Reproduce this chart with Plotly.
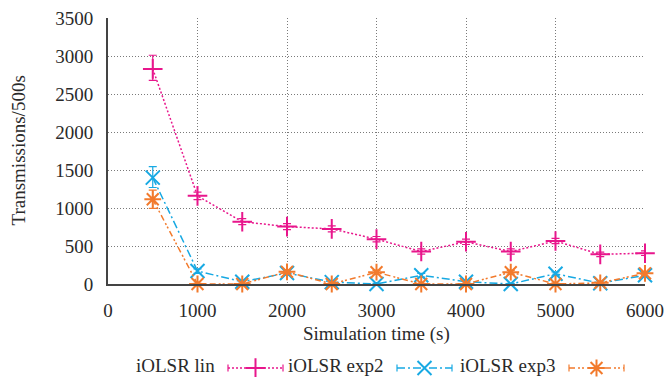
import plotly.graph_objects as go

# ---- data -------------------------------------------------------------
time_s = [500, 1000, 1500, 2000, 2500, 3000, 3500, 4000, 4500, 5000, 5500, 6000]
series_names = ["iOLSR lin", "iOLSR exp2", "iOLSR exp3"]

lin = [2830, 1160, 820, 755, 725, 590, 427, 555, 427, 565, 390, 405]
lin_err_plus = [180, 50, 40, 40, 40, 35, 35, 35, 35, 35, 30, 30]
lin_err_minus = [150, 50, 40, 40, 40, 35, 35, 35, 35, 35, 30, 30]

exp2 = [1400, 170, 30, 145, 25, 0, 115, 30, 0, 135, 10, 115]
exp2_err_plus = [145, 30, 20, 25, 20, 10, 25, 20, 10, 25, 10, 25]
exp2_err_minus = [130, 30, 20, 25, 20, 0, 25, 20, 0, 25, 10, 25]

exp3 = [1115, 0, 0, 160, 0, 155, 0, 0, 155, 0, 15, 140]
exp3_err_plus = [120, 10, 10, 25, 10, 25, 10, 10, 25, 10, 10, 25]
exp3_err_minus = [120, 0, 0, 25, 0, 25, 0, 0, 25, 0, 10, 25]

x_ticks = [0, 1000, 2000, 3000, 4000, 5000, 6000]
y_ticks = [0, 500, 1000, 1500, 2000, 2500, 3000, 3500]

# ---- styling ----------------------------------------------------------
FONT = "Liberation Serif"
TEXT_COLOR = "#2a2a2a"
W, H = 668, 377
M_L, M_R, M_T = 108, 23, 18
PLOT_BOTTOM = 284          # pixel row of the x axis
plot_w = W - M_L - M_R
plot_h = H - M_T


def px_to_paper_x(px):
    return (px - M_L) / plot_w


def px_to_paper_y(py):
    return (H - py) / plot_h


colors = ["#e8168c", "#17a9e3", "#f27a2c"]
dashes = ["2px,2px", "8px,3px,2px,3px", "6px,3px,2px,2px,2px,3px"]
symbols = ["cross-thin-open", "x-thin-open", "asterisk-open"]

values = [lin, exp2, exp3]
errs_plus = [lin_err_plus, exp2_err_plus, exp3_err_plus]
errs_minus = [lin_err_minus, exp2_err_minus, exp3_err_minus]

fig = go.Figure()

for name, ys, ep, em, c, d, s in zip(series_names, values, errs_plus, errs_minus,
                                      colors, dashes, symbols):
    fig.add_trace(go.Scatter(
        x=time_s, y=ys, name=name, mode="lines+markers",
        line=dict(color=c, width=1.5, dash=d),
        marker=dict(symbol=s, size=14, color=c, line=dict(color=c, width=2)),
        error_y=dict(type="data", symmetric=False, array=ep, arrayminus=em,
                     color=c, thickness=1.2, width=4),
        cliponaxis=False, showlegend=False,
    ))

# ---- key below the plot (label first, then the line sample) -----------
y_dom_bottom = (H - PLOT_BOTTOM) / plot_h

key_y = 368
key_text_y = 365
key_label_right = [217, 386, 558]
key_sample_len = 55
key_gap = 11
for name, c, d, s, xr in zip(series_names, colors, dashes, symbols, key_label_right):
    x0 = xr + key_gap
    x1 = x0 + key_sample_len
    xm = (x0 + x1) / 2
    fig.add_trace(go.Scatter(
        x=[x0, x1], y=[key_y, key_y], mode="lines", xaxis="x2", yaxis="y2",
        line=dict(color=c, width=1.4, dash=d),
        error_y=dict(type="constant", value=3.5, color=c, thickness=1.2, width=0),
        showlegend=False, hoverinfo="skip",
    ))
    fig.add_trace(go.Scatter(
        x=[xm], y=[key_y], mode="markers", xaxis="x2", yaxis="y2",
        marker=dict(symbol=s, size=14, color=c, line=dict(color=c, width=2)),
        showlegend=False, hoverinfo="skip",
    ))
    fig.add_annotation(x=px_to_paper_x(xr), y=px_to_paper_y(key_text_y),
                       xref="paper", yref="paper", text=name,
                       showarrow=False, xanchor="right", yanchor="middle",
                       font=dict(family=FONT, size=19, color=TEXT_COLOR))

# axis titles
fig.add_annotation(x=0.5, y=px_to_paper_y(334), xref="paper", yref="paper",
                   text="Simulation time (s)", showarrow=False,
                   xanchor="center", yanchor="middle",
                   font=dict(family=FONT, size=19, color=TEXT_COLOR))
fig.add_annotation(x=px_to_paper_x(18.5), y=px_to_paper_y(151),
                   xref="paper", yref="paper", text="Transmissions/500s",
                   showarrow=False, textangle=-90, xanchor="center", yanchor="middle",
                   font=dict(family=FONT, size=19, color=TEXT_COLOR))

grid_style = dict(showgrid=True, gridcolor="#7a7a7a", gridwidth=1, griddash="1px,2px")

fig.update_layout(
    width=W, height=H,
    margin=dict(l=M_L, r=M_R, t=M_T, b=0, pad=0),
    paper_bgcolor="white", plot_bgcolor="white",
    font=dict(family=FONT, size=19, color=TEXT_COLOR),
    showlegend=False,
    xaxis=dict(range=[0, 6000], tickvals=x_ticks, ticktext=[str(v) for v in x_ticks],
               showline=True, linecolor="#444", linewidth=2, mirror=False,
               ticks="outside", ticklen=8, tickcolor="rgba(0,0,0,0)",
               zeroline=False, automargin=False, anchor="y",
               tickfont=dict(family=FONT, size=19, color=TEXT_COLOR), **grid_style),
    yaxis=dict(range=[0, 3500], tickvals=y_ticks, ticktext=[str(v) for v in y_ticks],
               domain=[y_dom_bottom, 1],
               showline=True, linecolor="#444", linewidth=2, mirror=False,
               ticks="outside", ticklen=9, tickcolor="rgba(0,0,0,0)",
               zeroline=False, automargin=False, anchor="x",
               tickfont=dict(family=FONT, size=19, color=TEXT_COLOR), **grid_style),
    xaxis2=dict(range=[M_L, W - M_R], domain=[0, 1], anchor="y2", visible=False,
                fixedrange=True),
    yaxis2=dict(range=[H, H - 75], domain=[0, 75 / plot_h], anchor="x2",
                visible=False, fixedrange=True),
)

fig.write_html("out.html")
